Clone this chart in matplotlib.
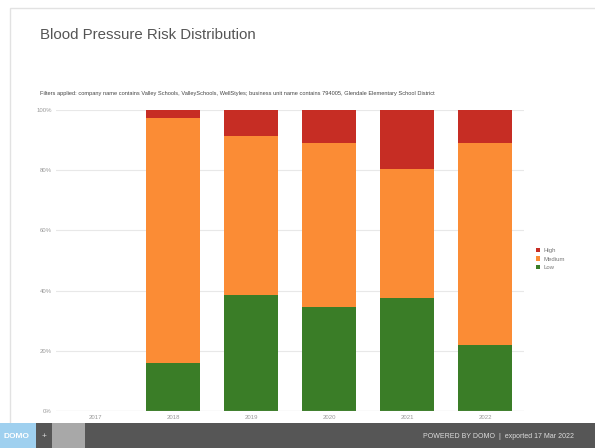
import matplotlib.pyplot as plt
import numpy as np
from matplotlib.patches import Rectangle

years = ["2017", "2018", "2019", "2020", "2021", "2022"]
low = [0, 15.8, 38.5, 34.7, 37.4, 21.9]
high = [0, 2.7, 8.6, 11.0, 19.5, 11.0]
medium = [0 if l == 0 else 100 - l - h for l, h in zip(low, high)]

series = [("Low", low, "#3a7d27"),
          ("Medium", medium, "#fb8c35"),
          ("High", high, "#c62d24")]

plt.rcParams['font.family'] = ['Liberation Sans', 'DejaVu Sans']

fig = plt.figure(figsize=(5.95, 4.48), dpi=100)
W, H = 595, 448

# page frame
fig.patches.append(Rectangle((10 / W, 0), 1, (448 - 8) / H, transform=fig.transFigure,
                             facecolor="white", edgecolor="#e2e2e2", lw=1.0, zorder=-5))

fig.text(40 / W, 1 - 35 / H, "Blood Pressure Risk Distribution", fontsize=10.8,
         color="#555555", va="center")
fig.text(40 / W, 1 - 93 / H,
         "Filters applied: company name contains Valley Schools, ValleySchools, WellStyles; "
         "business unit name contains 794005, Glendale Elementary School District",
         fontsize=4.1, color="#444444", va="center")

ax = fig.add_axes([56 / W, 1 - 411 / H, (524 - 56) / W, (411 - 110) / H])
x = np.arange(len(years))
bottom = np.zeros(len(years))
handles = {}
for name, vals, col in series:
    b = ax.bar(x, vals, width=0.7, bottom=bottom, color=col, zorder=2)
    handles[name] = b
    bottom += np.array(vals)

ax.set_xlim(-0.5, len(years) - 0.5)
ax.set_ylim(0, 100)
ax.set_xticks(x)
ax.set_xticklabels(years, fontsize=4.3, color="#999999")
ax.set_yticks([0, 20, 40, 60, 80, 100])
ax.set_yticklabels(["0%", "20%", "40%", "60%", "80%", "100%"], fontsize=4.3, color="#999999")
ax.tick_params(length=0, pad=3)
ax.yaxis.grid(True, color="#e8e8e8", lw=0.8, zorder=0)
for s in ax.spines.values():
    s.set_visible(False)
ax.axhline(0, color="#cccccc", lw=0.8, zorder=3)

leg = fig.legend([handles["High"], handles["Medium"], handles["Low"]],
                 ["High", "Medium", "Low"], loc="center left",
                 bbox_to_anchor=(533 / W, 1 - 259 / H), frameon=False, fontsize=4.3,
                 handlelength=0.7, handleheight=0.7, handletextpad=0.5, labelspacing=0.6,
                 borderpad=0)
for t in leg.get_texts():
    t.set_color("#777777")

# footer bar
fig.patches.append(Rectangle((0, 0), 1, 25 / H, transform=fig.transFigure,
                             facecolor="#565656", edgecolor="none", zorder=1))
fig.patches.append(Rectangle((0, 0), 36 / W, 25 / H, transform=fig.transFigure,
                             facecolor="#9fd0ef", edgecolor="none", zorder=2))
fig.patches.append(Rectangle((52 / W, 0), 33 / W, 25 / H, transform=fig.transFigure,
                             facecolor="#a8a8a8", edgecolor="none", zorder=2))
fig.text(3 / W, 12 / H, "DOMO", fontsize=6, color="white", va="center", fontweight="bold")
fig.text(42 / W, 12 / H, "+", fontsize=6, color="#dddddd", va="center")
fig.text(574 / W, 12 / H, "POWERED BY DOMO  |  exported 17 Mar 2022", fontsize=5,
         color="#dddddd", va="center", ha="right")

fig.savefig("out.png", dpi=100)
